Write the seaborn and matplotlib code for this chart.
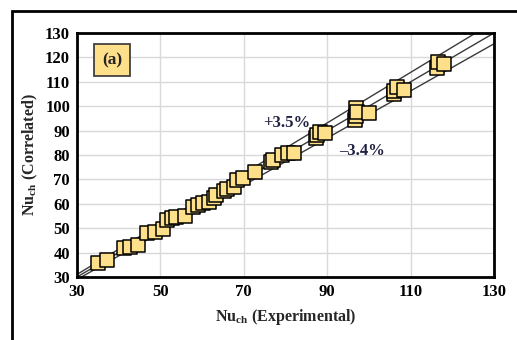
import numpy as np
import pandas as pd
import matplotlib
matplotlib.use("Agg")
import matplotlib.pyplot as plt
from matplotlib.patches import Rectangle
import seaborn as sns

# Experimental vs correlated Nusselt numbers
nu_exp = [35.0, 37.3, 41.2, 42.8, 44.6, 46.8, 48.8, 50.6, 51.6, 52.8, 53.8, 55.8,
          57.8, 59.0, 60.3, 61.6, 62.8, 63.4, 65.3, 66.0, 67.7, 68.3, 69.8, 72.8,
          76.6, 77.0, 79.1, 80.6, 82.1, 87.3, 87.6, 88.3, 89.4, 96.7, 96.8, 96.9,
          97.2, 100.1, 106.0, 106.0, 106.8, 108.4, 116.4, 116.5, 117.9]
nu_cor = [35.6, 37.0, 42.0, 42.4, 43.0, 47.9, 48.3, 49.5, 53.4, 54.0, 54.5, 55.0,
          58.5, 59.5, 60.2, 60.8, 62.5, 63.8, 65.4, 66.0, 66.8, 69.8, 70.6, 72.9,
          77.0, 78.0, 79.8, 80.8, 81.0, 86.8, 88.3, 89.6, 89.0, 94.5, 96.0, 99.2,
          97.5, 97.2, 104.8, 106.2, 108.0, 106.5, 115.8, 118.0, 117.1]

# Deviation bands drawn around the parity line
band_factors = [1.035, 1.0, 0.966]
band_labels = ["+3.5%", "\u20133.4%"]
axis_ticks_x = [30, 50, 70, 90, 110, 130]
axis_ticks_y = [30, 40, 50, 60, 70, 80, 90, 100, 110, 120, 130]

sns.set_style("white")
plt.rcParams["font.family"] = ["Liberation Serif", "DejaVu Serif"]
plt.rcParams["font.weight"] = "bold"
plt.rcParams["mathtext.default"] = "regular"

fig = plt.figure(figsize=(5.17, 3.40), dpi=100)
ax = fig.add_axes([77 / 517, 1 - 277 / 340, (494 - 77) / 517, (277 - 33) / 340])

df = pd.DataFrame({"exp": nu_exp, "cor": nu_cor})

line_x = np.array([30.0, 140.0])
for f in band_factors:
    ax.plot(line_x, f * line_x, color="#3a3a3a", lw=1.0, zorder=2)

sns.scatterplot(data=df, x="exp", y="cor", ax=ax, marker="s", s=90,
                color="#FFE08A", edgecolor="black", linewidth=1.1, zorder=3)

ax.set_xlim(30, 130)
ax.set_ylim(30, 130)
ax.set_xticks(axis_ticks_x)
ax.set_yticks(axis_ticks_y)
ax.grid(True, color="#d9d9d9", lw=1.0, zorder=0)
ax.set_axisbelow(True)
ax.tick_params(direction="in", length=4, width=1.5, labelsize=12,
               colors="black", pad=5)
for lab in ax.get_xticklabels() + ax.get_yticklabels():
    lab.set_fontweight("bold")
for sp in ax.spines.values():
    sp.set_visible(True)
    sp.set_color("black")
    sp.set_linewidth(2.0)

ax.set_xlabel("Nu$_{ch}$ (Experimental)", fontsize=11.5, fontweight="bold",
              labelpad=5)
ax.set_ylabel("Nu$_{ch}$ (Correlated)", fontsize=11.5, fontweight="bold",
              labelpad=4)

ax.text(80.4, 93.1, band_labels[0], fontsize=12, fontweight="bold",
        color="#1f2040", ha="center", va="center")
ax.text(98.4, 81.6, band_labels[1], fontsize=12, fontweight="bold",
        color="#1f2040", ha="center", va="center")

ax.text(0.084, 0.889, "(a)", transform=ax.transAxes, fontsize=12.5,
        fontweight="bold", ha="center", va="center",
        bbox=dict(boxstyle="square,pad=0.45", facecolor="#FFE08A",
                  edgecolor="#333333", lw=1.2))

# Outer frame of the figure panel
fig.patches.append(Rectangle((12 / 517, -0.1), 1.2, 1 - 11 / 340 + 0.1,
                             transform=fig.transFigure, fill=False,
                             edgecolor="black", lw=2.0))

fig.savefig("out.png", dpi=100, facecolor="white")
